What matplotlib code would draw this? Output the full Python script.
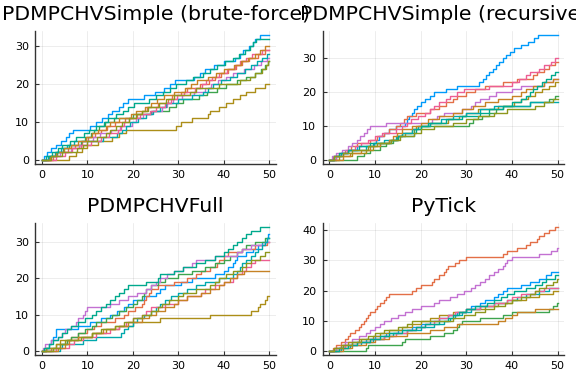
import matplotlib
matplotlib.use("Agg")
import matplotlib.pyplot as plt

# Plots.jl default palette, in series order
colors = ["#009AFA", "#E36F47", "#3EA44E", "#C371D2", "#AC8E18",
          "#00A9AD", "#ED5E93", "#C68225", "#00A98D", "#8E971D"]

t_end = 50

titles = ["PDMPCHVSimple (brute-force)", "PDMPCHVSimple (recursive)",
          "PDMPCHVFull", "PyTick"]

# jump times of each counting path (one list per series, palette order)
brute_force = [
    [0.4, 1.2, 2.0, 3.1, 4.3, 5.2, 6.0, 6.8, 10.5, 11.8, 13.2, 14.6, 15.5, 17.0, 17.9, 19.0, 22.5,
     24.8, 26.8, 28.2, 29.3, 33.5, 34.8, 36.0, 37.9, 40.1, 42.6, 43.5, 44.3, 45.6, 46.4, 47.0, 48.1],
    [2.5, 3.4, 5.8, 7.3, 8.8, 10.1, 11.6, 13.0, 14.3, 16.0, 18.3, 21.0, 22.1, 23.2, 25.5, 27.8,
     28.6, 30.5, 32.0, 34.7, 36.8, 38.0, 39.5, 41.0, 42.8, 44.0, 45.5, 47.5, 49.0],
    [1.5, 3.3, 4.6, 6.0, 8.5, 9.5, 10.7, 11.5, 12.6, 13.8, 15.8, 20.0, 24.0, 28.0, 29.5, 31.0,
     34.5, 36.3, 38.5, 40.5, 43.0, 45.0, 46.8, 48.2, 49.0, 49.7],
    [2.1, 4.0, 6.3, 8.2, 9.9, 11.3, 12.7, 15.2, 17.2, 19.8, 20.7, 22.3, 24.3, 26.5, 27.5, 28.8,
     30.8, 33.4, 35.8, 37.2, 38.8, 40.6, 42.0, 44.5, 46.6, 48.3, 49.6],
    [6.0, 7.5, 8.8, 10.0, 12.3, 15.5, 17.0, 18.5, 29.5, 30.5, 33.0, 36.5, 37.0, 39.0, 40.5, 42.0,
     43.5, 45.0, 47.0, 49.0],
    [1.3, 2.8, 4.2, 5.5, 7.0, 13.5, 16.5, 17.6, 18.4, 19.4, 21.2, 22.8, 24.5, 25.9, 27.2, 30.0,
     33.0, 35.5, 36.6, 37.7, 39.4, 41.5, 43.0, 44.6, 46.0, 47.3, 48.5, 49.5],
    [3.0, 5.0, 6.7, 8.5, 10.8, 12.9, 14.8, 16.8, 17.3, 18.0, 19.2, 21.5, 23.8, 25.2, 27.0, 28.3,
     29.8, 31.2, 33.8, 35.2, 36.2, 37.5, 39.0, 40.8, 42.4, 43.7, 45.0, 46.2, 48.5],
    [1.8, 3.0, 4.9, 6.5, 8.0, 9.6, 11.0, 12.4, 14.1, 15.0, 16.9, 19.5, 20.8, 22.6, 24.0, 25.3,
     26.9, 29.0, 31.4, 32.8, 34.1, 36.5, 38.3, 40.0, 42.2, 43.9, 45.4, 46.9, 48.0, 49.2],
    [1.0, 2.2, 3.5, 4.4, 6.1, 7.5, 9.2, 10.3, 12.0, 13.6, 14.5, 16.2, 17.8, 18.9, 20.3, 23.5, 25.0,
     26.6, 28.1, 29.4, 31.7, 33.2, 35.5, 37.0, 38.6, 40.4, 42.1, 43.3, 44.8, 45.7, 46.5, 47.2],
    [2.0, 4.5, 7.8, 9.0, 10.0, 12.2, 14.0, 15.0, 16.3, 17.6, 19.1, 20.6, 22.0, 23.4, 25.8, 27.4,
     29.0, 32.5, 34.0, 39.0, 43.5, 45.8, 47.0, 48.4, 49.3, 49.8],
]

recursive = [
    [1.0, 2.5, 4.0, 6.0, 9.8, 10.2, 10.8, 12.0, 13.0, 14.5, 16.5, 16.9, 17.4, 18.0, 18.6, 19.2,
     20.0, 21.0, 22.0, 23.0, 25.5, 28.0, 32.8, 33.6, 34.4, 35.0, 35.8, 36.5, 37.2, 38.0, 38.6,
     39.5, 40.5, 42.0, 43.5, 44.8, 45.8],
    [0.8, 2.2, 3.5, 4.8, 6.0, 9.0, 10.5, 12.0, 13.0, 14.5, 15.5, 16.3, 17.0, 19.0, 22.0, 24.0,
     25.5, 27.0, 28.0, 30.0, 32.0, 34.0, 38.0, 41.0, 44.5, 45.5, 47.0, 48.0, 49.5],
    [6.0, 7.5, 9.0, 11.0, 12.5, 14.0, 14.8, 16.0, 18.5, 20.0, 30.5, 31.5, 33.5, 35.0, 36.5, 38.0,
     44.0, 48.0, 49.5],
    [0.5, 1.5, 2.8, 4.0, 5.0, 6.0, 6.8, 7.5, 8.2, 9.0, 12.5, 22.5, 23.5, 25.0, 29.0, 31.0, 32.0,
     33.0, 35.0, 36.5, 40.0, 42.0, 47.0, 49.0],
    [2.0, 5.0, 8.0, 9.5, 11.0, 13.0, 15.0, 16.5, 18.0, 19.0, 22.0, 26.0, 28.5, 30.0, 32.5, 37.0,
     40.5, 42.0, 43.5, 45.0, 46.5, 48.0, 49.5],
    [1.5, 2.5, 4.0, 8.0, 9.5, 12.0, 14.5, 16.0, 18.0, 19.5, 22.0, 24.5, 27.0, 30.0, 33.0, 36.0,
     44.0],
    [1.5, 3.0, 3.8, 5.5, 7.0, 8.5, 10.0, 11.5, 14.5, 16.0, 17.0, 17.8, 19.5, 21.0, 22.0, 23.0,
     24.0, 25.5, 26.5, 28.0, 29.5, 35.0, 40.0, 41.5, 43.0, 44.0, 46.0, 47.0, 48.5, 49.5],
    [3.0, 4.5, 7.0, 9.0, 11.0, 13.0, 14.0, 14.8, 16.0, 18.0, 20.0, 21.5, 24.0, 27.0, 29.0, 31.5,
     34.0, 37.0, 40.0, 42.0, 43.0, 44.5, 47.0, 49.0],
    [1.0, 2.0, 4.0, 6.5, 9.0, 13.5, 15.0, 18.5, 19.0, 20.0, 21.5, 25.5, 29.0, 33.0, 35.0, 38.0,
     40.0, 42.0, 43.0, 44.0, 44.5, 45.5, 46.5, 47.5, 48.5, 49.5],
    [1.0, 3.0, 5.0, 8.5, 10.5, 13.5, 15.5, 18.5, 20.0, 23.0, 27.0, 30.0, 32.5, 36.0, 39.0, 45.0,
     47.0, 49.0],
]

full = [
    [0.8, 1.5, 2.0, 2.5, 3.0, 3.2, 8.0, 10.5, 13.0, 15.0, 16.5, 18.0, 19.0, 20.0, 22.5, 25.0,
     26.0, 27.0, 30.5, 33.0, 38.0, 40.0, 41.0, 42.0, 42.5, 43.0, 45.0, 46.5, 47.5, 48.5, 49.5, 49.8],
    [2.0, 4.0, 5.5, 6.5, 8.0, 10.0, 11.5, 13.0, 16.0, 18.0, 19.0, 20.5, 22.0, 22.5, 23.0, 23.5,
     24.0, 25.5, 29.0, 32.0, 34.0, 35.0, 37.0, 38.5, 39.0, 40.0, 41.0, 44.0, 47.0, 49.5],
    [1.0, 3.0, 5.5, 6.5, 8.0, 9.5, 11.0, 12.0, 14.0, 15.5, 17.0, 18.5, 20.0, 21.0, 22.0, 22.5,
     23.0, 24.0, 25.5, 27.0, 30.0, 33.0, 36.0, 38.0, 40.0, 41.5, 43.0, 44.0, 45.0, 47.0, 49.0],
    [0.3, 0.6, 2.0, 3.5, 4.5, 5.0, 6.5, 7.5, 8.0, 9.0, 9.5, 10.0, 15.0, 17.0, 19.0, 21.0, 23.0,
     24.0, 25.0, 26.0, 27.5, 29.0, 31.0, 33.0, 34.0, 38.0, 43.0, 44.0, 46.0, 49.0],
    [1.0, 3.0, 4.0, 8.0, 11.0, 14.0, 17.0, 20.0, 26.0, 37.0, 46.0, 47.5, 48.0, 49.0, 49.5],
    [4.0, 4.5, 9.0, 12.0, 17.5, 18.0, 19.0, 20.0, 21.0, 22.5, 24.0, 25.0, 26.0, 27.0, 28.5, 30.0,
     32.0, 34.0, 36.0, 39.0, 42.0, 43.0, 43.5, 44.0, 45.0, 46.0, 47.0, 47.5, 48.5, 49.0, 49.5],
    [3.0, 6.0, 7.0, 9.0, 12.0, 15.0, 17.0, 18.5, 20.0, 22.0, 23.0, 24.0, 27.0, 30.0, 32.0, 35.0,
     36.0, 38.0, 40.0, 42.0, 43.0, 44.0, 45.0, 46.0, 47.0],
    [3.5, 5.0, 6.0, 8.0, 11.0, 13.5, 16.0, 19.0, 22.0, 23.5, 25.0, 27.0, 29.0, 30.0, 32.0, 35.0,
     37.0, 39.0, 40.0, 41.5, 43.0, 44.5],
    [0.5, 1.5, 2.5, 3.5, 4.5, 5.5, 6.5, 8.0, 9.5, 11.0, 12.0, 13.0, 14.0, 15.0, 16.0, 17.0,
     18.0, 19.0, 23.0, 25.5, 26.0, 29.0, 31.0, 34.0, 36.0, 38.0, 40.0, 41.0, 42.0, 43.0, 44.0,
     45.0, 46.0, 48.0],
    [2.5, 4.0, 5.0, 8.5, 11.0, 13.0, 16.0, 18.0, 20.0, 22.0, 24.0, 25.5, 26.5, 28.0, 30.0, 31.0,
     34.0, 37.0, 38.0, 39.0, 40.5, 42.0, 44.0, 45.0, 46.0, 48.0, 49.0],
]

pytick = [
    [1.5, 3.0, 5.0, 8.0, 10.0, 12.5, 15.0, 18.0, 20.0, 22.0, 24.0, 26.0, 28.0, 30.0, 31.0, 33.0,
     34.0, 36.0, 37.0, 38.0, 39.0, 42.0, 44.0, 46.0, 47.5, 48.5],
    [0.8, 1.5, 2.5, 3.5, 4.0, 4.5, 5.5, 6.5, 7.0, 7.5, 8.0, 8.5, 9.0, 10.0, 10.5, 11.0, 12.0,
     12.5, 13.0, 18.0, 19.0, 20.0, 22.5, 23.0, 24.0, 25.0, 25.5, 26.0, 27.5, 28.5, 30.0, 38.0,
     39.0, 41.0, 43.0, 44.0, 45.5, 46.0, 47.0, 48.0, 49.5],
    [8.0, 8.5, 16.0, 16.5, 22.0, 25.0, 27.0, 28.0, 28.5, 29.0, 33.0, 38.0, 40.0, 48.0, 49.0, 49.8],
    [1.5, 2.5, 3.5, 5.0, 6.5, 8.0, 9.0, 10.0, 11.0, 12.0, 13.5, 15.0, 16.5, 18.0, 20.0, 23.0,
     24.0, 26.5, 28.0, 29.5, 31.0, 32.0, 33.0, 34.0, 35.0, 36.0, 37.0, 38.0, 38.5, 39.0, 40.0,
     46.0, 48.5, 49.8],
    [1.0, 2.5, 4.0, 6.5, 9.5, 11.0, 13.0, 16.0, 18.0, 20.0, 22.0, 24.0, 27.0, 30.0, 34.0, 37.0,
     40.0, 43.0, 46.0, 49.0],
    [2.5, 4.5, 7.0, 9.5, 12.0, 14.0, 17.0, 20.0, 23.0, 25.0, 26.5, 27.5, 29.0, 31.0, 33.0, 36.0,
     39.0, 41.0, 43.0, 46.0, 48.0],
    [2.0, 3.5, 6.0, 9.0, 12.0, 14.5, 17.0, 19.0, 21.0, 23.0, 24.0, 26.0, 27.5, 30.0, 33.0, 36.0,
     39.0, 40.0, 42.0, 45.0, 47.0],
    [3.0, 5.0, 8.0, 10.0, 13.0, 17.0, 22.0, 25.0, 28.0, 37.0, 38.5, 40.0, 41.0, 45.0],
    [2.0, 4.0, 6.0, 9.0, 11.0, 13.0, 16.0, 19.0, 21.0, 24.0, 26.0, 27.0, 28.5, 30.0, 32.0, 34.5,
     36.0, 37.5, 39.0, 40.5, 43.0, 45.0, 46.5, 47.5, 49.5],
    [1.0, 3.0, 5.0, 7.0, 8.5, 10.0, 12.0, 15.0, 17.0, 18.0, 27.0, 29.5, 32.0, 34.0, 36.0, 38.5,
     40.0, 42.0, 44.0, 45.0, 46.0, 47.5, 49.0, 49.8],
]

panels = [brute_force, recursive, full, pytick]

# axes boxes in figure fractions [left, bottom, width, height]
boxes = [
    [0.061, 0.574, 0.418, 0.345],
    [0.560, 0.574, 0.420, 0.345],
    [0.061, 0.075, 0.418, 0.344],
    [0.560, 0.075, 0.420, 0.344],
]

fig = plt.figure(figsize=(5.76, 3.84), dpi=100)

for box, title, paths in zip(boxes, titles, panels):
    ax = fig.add_axes(box)
    ymax = 0
    for color, jumps in zip(colors, paths):
        xs = [0] + jumps + [t_end]
        ys = list(range(len(jumps) + 1)) + [len(jumps)]
        ax.plot(xs, ys, drawstyle="steps-post", color=color, lw=1.0)
        ymax = max(ymax, len(jumps))
    ax.set_xlim(-1.5, 51.5)
    ax.set_ylim(-0.03 * ymax, 1.03 * ymax)
    ax.set_xticks([0, 10, 20, 30, 40, 50])
    ax.set_yticks(range(0, ymax + 1, 10))
    ax.grid(True, color="black", alpha=0.1, lw=0.5)
    for side in ["top", "right"]:
        ax.spines[side].set_visible(False)
    for side in ["left", "bottom"]:
        ax.spines[side].set_color("#333333")
        ax.spines[side].set_linewidth(1.0)
    ax.tick_params(direction="in", length=3, width=0.8, labelsize=8, pad=4.5,
                   colors="#333333", labelcolor="black")
    ax.set_title(title, fontsize=14.7, pad=8)

fig.savefig("out.png", dpi=100)
